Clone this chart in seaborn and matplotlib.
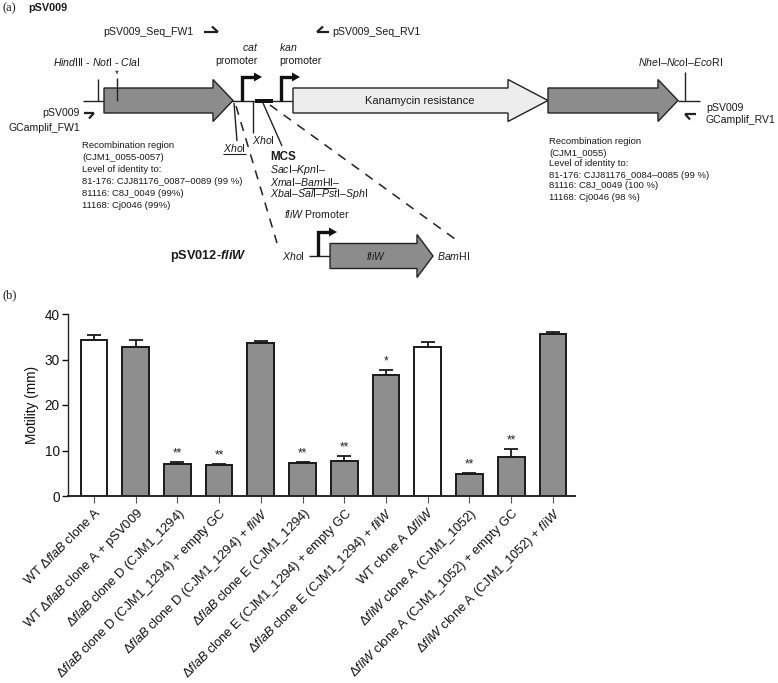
import numpy as np
import pandas as pd
import matplotlib
matplotlib.use("Agg")
import matplotlib.pyplot as plt
import seaborn as sns
from matplotlib.patches import Polygon, Rectangle

# ---------------- data (panel b) ----------------
categories = [
    "WT Δ$\\mathit{flaB}$ clone A",
    "WT Δ$\\mathit{flaB}$ clone A + pSV009",
    "Δ$\\mathit{flaB}$ clone D (CJM1_1294)",
    "Δ$\\mathit{flaB}$ clone D (CJM1_1294) + empty GC",
    "Δ$\\mathit{flaB}$ clone D (CJM1_1294) + $\\mathit{fliW}$",
    "Δ$\\mathit{flaB}$ clone E (CJM1_1294)",
    "Δ$\\mathit{flaB}$ clone E (CJM1_1294) + empty GC",
    "Δ$\\mathit{flaB}$ clone E (CJM1_1294) + $\\mathit{fliW}$",
    "WT clone A Δ$\\mathit{fliW}$",
    "Δ$\\mathit{fliW}$ clone A (CJM1_1052)",
    "Δ$\\mathit{fliW}$ clone A (CJM1_1052) + empty GC",
    "Δ$\\mathit{fliW}$ clone A (CJM1_1052) + $\\mathit{fliW}$",
]
motility = [34.2, 32.8, 7.0, 6.8, 33.6, 7.3, 7.8, 26.5, 32.7, 4.9, 8.5, 35.6]
sem = [1.1, 1.5, 0.5, 0.3, 0.4, 0.15, 1.0, 1.25, 1.2, 0.2, 1.9, 0.5]
signif = ["", "", "**", "**", "", "**", "**", "*", "", "**", "**", ""]
strain_type = ["wt", "mut", "mut", "mut", "mut", "mut", "mut", "mut", "wt", "mut", "mut", "mut"]
y_ticks = [0, 10, 20, 30, 40]

# ---------------- style ----------------
sns.set_style("ticks")
plt.rcParams["font.family"] = ["Liberation Sans", "DejaVu Sans"]
plt.rcParams["mathtext.fontset"] = "custom"
plt.rcParams["mathtext.rm"] = "Liberation Sans"
plt.rcParams["mathtext.it"] = "Liberation Sans:italic"
plt.rcParams["mathtext.bf"] = "Liberation Sans:bold"
plt.rcParams["mathtext.bfit"] = "Liberation Sans:italic:bold"

W, H = 778, 683
fig = plt.figure(figsize=(W / 100, H / 100), dpi=100)

# ---------------- panel b: bar chart ----------------
ax = fig.add_axes([68 / W, (H - 496) / H, (575 - 68) / W, (496 - 314) / H])
df = pd.DataFrame({"strain": categories, "motility": motility, "type": strain_type})
sns.barplot(data=df, x="strain", y="motility", hue="type", order=categories,
            palette={"wt": "white", "mut": "#8e8e8e"}, dodge=False, width=0.64,
            edgecolor="#1a1a1a", linewidth=1.4, errorbar=None, legend=False, ax=ax)
xpos = np.arange(len(categories))
ax.errorbar(xpos, motility, yerr=[np.zeros(len(sem)), sem], fmt="none",
            ecolor="#1a1a1a", elinewidth=1.3, capsize=4.7, capthick=1.3, zorder=0)
for x, m, s, sig in zip(xpos, motility, sem, signif):
    if sig:
        ax.text(x, m + s + 0.5, sig, ha="center", va="bottom", fontsize=8.5, color="#222")
ax.set_ylim(0, 40)
ax.set_xlim(-0.62, 11.53)
ax.set_yticks(y_ticks)
ax.set_ylabel("Motility (mm)", fontsize=9.8, labelpad=4, color="#111")
ax.set_xlabel("")
sns.despine(ax=ax)
ax.spines["left"].set_linewidth(1.0)
ax.spines["bottom"].set_linewidth(1.4)
ax.tick_params(axis="y", length=4, width=1.0, labelsize=9.8, pad=2, colors="#111")
ax.tick_params(axis="x", length=5, width=0.8, color="#555", pad=2)
ax.set_xticks(xpos)
ax.set_xticklabels(categories, rotation=45, ha="right", va="top",
                   rotation_mode="anchor", fontsize=9.3, color="#111")

# ---------------- panel a: plasmid diagram (pixel coordinates) ----------------
ax0 = fig.add_axes([0, 0, 1, 1])
ax0.set_xlim(0, W)
ax0.set_ylim(H, 0)
ax0.axis("off")
fig.canvas.draw()
renderer = fig.canvas.get_renderer()

EDGE = "#222222"
GREY = "#8c8c8c"


def T(x, y, s, size=7.6, **kw):
    kw.setdefault("va", "center")
    kw.setdefault("ha", "left")
    kw.setdefault("color", "#1a1a1a")
    return ax0.text(x, y, s, fontsize=size, **kw)


def width_of(s, size, **kw):
    t = ax0.text(0, 0, s, fontsize=size, **kw)
    w = t.get_window_extent(renderer).width
    t.remove()
    return w


def gene(x0, xh, x1, y, bh, hh, fc):
    pts = [(x0, y - bh / 2), (xh, y - bh / 2), (xh, y - hh / 2), (x1, y),
           (xh, y + hh / 2), (xh, y + bh / 2), (x0, y + bh / 2)]
    ax0.add_patch(Polygon(pts, closed=True, fc=fc, ec=EDGE, lw=1.0, zorder=3))


def line(xs, ys, lw=1.0, **kw):
    kw.setdefault("color", EDGE)
    ax0.plot(xs, ys, lw=lw, solid_capstyle="butt", **kw)


def bent(x, yb, yt, xtip):
    ax0.plot([x, x, xtip - 7], [yb, yt, yt], color="#111", lw=2.4,
             solid_joinstyle="miter", solid_capstyle="butt", zorder=4)
    ax0.add_patch(Polygon([(xtip - 8, yt - 4.5), (xtip, yt), (xtip - 8, yt + 4.5)],
                          closed=True, fc="#111", ec="none", zorder=4))


Y0 = 100.5
# panel labels
T(3, 8, "(a)", size=9, family="Liberation Serif")
T(28, 8, "pSV009", size=7.8, weight="bold")
T(3, 295, "(b)", size=9, family="Liberation Serif")

# sequencing primers
T(103, 32, "pSV009_Seq_FW1")
line([204, 218], [32, 32], lw=1.6)
line([218, 212], [32, 26.5], lw=1.6)
line([317, 329], [32, 32], lw=1.6)
line([317, 323], [32, 26.5], lw=1.6)
T(332, 32, "pSV009_Seq_RV1")

# promoters labels
T(250, 47, "$\\mathit{cat}$", ha="center")
T(236, 61, "promoter", ha="center")
T(279, 47, "$\\mathit{kan}$")
T(279, 61, "promoter")
T(53, 62, "$\\mathit{Hind}$III - $\\mathit{Not}$I - $\\mathit{Cla}$I")
T(638, 62, "$\\mathit{Nhe}$I–$\\mathit{Nco}$I–$\\mathit{Eco}$RI")

# backbone
line([83, 293], [Y0, Y0], lw=1.0)
line([678, 700], [Y0, Y0], lw=1.0)
line([98, 98], [79, Y0], lw=1.0)
line([685, 685], [72, Y0], lw=1.0)

# genes
gene(104, 213, 233, Y0, 25, 42, GREY)
gene(293, 508, 548, Y0, 25, 42, "#ededed")
gene(548, 658, 678, Y0, 25, 42, GREY)
T(420, Y0, "Kanamycin resistance", size=8, ha="center", zorder=5)
line([117, 117], [78, Y0], lw=1.0, zorder=5)
T(117, 74, "*", size=7, ha="center", zorder=5)

# promoters and MCS
bent(242, Y0, 77, 262)
bent(281, Y0, 77, 300)
ax0.add_patch(Rectangle((255, 98.5), 18, 4.5, fc="#111", ec="none", zorder=5))

# primer amplification arrows
line([84, 94], [113, 113], lw=1.6)
line([94, 89], [113, 118.5], lw=1.6)
T(80, 113, "pSV009", ha="right")
T(80, 128, "GCamplif_FW1", ha="right")
line([685, 696], [114, 114], lw=1.6)
line([685, 690], [114, 119.5], lw=1.6)
T(706, 108, "pSV009")
T(706, 120, "GCamplif_RV1")

# recombination region texts
left_txt = ["Recombination region", "(CJM1_0055-0057)", "Level of identity to:",
            "81-176: CJJ81176_0087–0089 (99 %)", "81116: C8J_0049 (99%)",
            "11168: Cj0046 (99%)"]
for i, s in enumerate(left_txt):
    T(82, 146 + i * 11.8, s, size=6.8)
right_txt = ["Recombination region", "(CJM1_0055)", "Level of identity to:",
             "81-176: CJJ81176_0084–0085 (99 %)", "81116: C8J_0049 (100 %)",
             "11168: Cj0046 (98 %)"]
for i, s in enumerate(right_txt):
    T(549, 142 + i * 11.0, s, size=6.8)

# XhoI sites and MCS
line([234, 237], [103, 141], lw=1.0)
T(223, 148, "$\\mathit{Xho}$I")
wx = width_of("$\\mathit{Xho}$I", 7.6)
line([223, 223 + wx], [153.5, 153.5], lw=0.8)
line([253, 253], [Y0, 133], lw=1.0)
T(252, 140, "$\\mathit{Xho}$I")
line([263, 282], [103, 146], lw=1.0)
T(270, 157, "MCS", size=8.4, weight="bold")
T(270, 170, "$\\mathit{Sac}$I–$\\mathit{Kpn}$I–")
T(270, 182, "$\\mathit{Xma}$I–$\\mathit{Bam}$HI–")
wp = width_of("$\\mathit{Xma}$I–", 7.6)
wb = width_of("$\\mathit{Bam}$HI", 7.6)
line([270 + wp, 270 + wp + wb], [187.5, 187.5], lw=0.8)
T(270, 194, "$\\mathit{Xba}$I–$\\mathit{Sal}$I–$\\mathit{Pst}$I–$\\mathit{Sph}$I")

# dashed zoom lines
ax0.plot([236, 277], [106, 243], color=EDGE, lw=1.1, ls=(0, (6, 5)))
ax0.plot([270, 455], [105, 239], color=EDGE, lw=1.1, ls=(0, (6, 5)))

# pSV012-fliW construct
Y1 = 256
T(284, 214, "$\\mathit{fliW}$ Promoter")
T(170, Y1, "pSV012-$\\mathbfit{fliW}$", size=9.2, weight="bold")
T(282, Y1, "$\\mathit{Xho}$I")
line([309, 330], [Y1, Y1], lw=1.0)
bent(318, Y1, 232, 337)
gene(330, 417, 433, Y1, 25, 43, GREY)
T(376, Y1, "$\\mathit{fliW}$", size=7.4, ha="center", zorder=5)
T(437, Y1, "$\\mathit{Bam}$HI")

fig.savefig("out.png", dpi=100)
